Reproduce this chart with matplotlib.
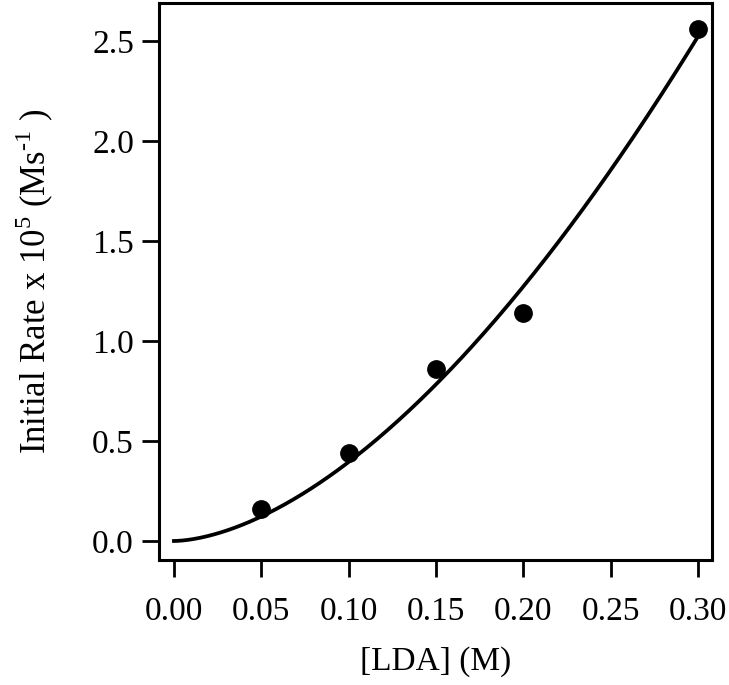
import numpy as np
import matplotlib
matplotlib.use("Agg")
import matplotlib.pyplot as plt

# Datos: velocidad inicial vs [LDA]
lda = np.array([0.05, 0.10, 0.15, 0.20, 0.30])
rate = np.array([0.16, 0.44, 0.86, 1.14, 2.56])

xticks = [0.00, 0.05, 0.10, 0.15, 0.20, 0.25, 0.30]
yticks = [0.0, 0.5, 1.0, 1.5, 2.0, 2.5]


def power_fit(x, y):
    # ajuste y = a * x**n por minimos cuadrados (busqueda en n)
    best = None
    for n in np.linspace(1.0, 3.0, 2001):
        xn = x ** n
        a = np.sum(y * xn) / np.sum(xn * xn)
        err = np.sum((y - a * xn) ** 2)
        if best is None or err < best[0]:
            best = (err, a, n)
    return best[1], best[2]


def main():
    plt.rcParams['font.family'] = ['Liberation Serif', 'DejaVu Serif']
    plt.rcParams['mathtext.fontset'] = 'custom'
    plt.rcParams['mathtext.rm'] = 'Liberation Serif'
    a, n = power_fit(lda, rate)
    xfit = np.linspace(0, 0.30, 300)

    fig = plt.figure(figsize=(7.29, 6.85), dpi=100)
    ax = fig.add_axes([0.218, 0.1825, 0.759, 0.813])
    ax.plot(xfit, a * xfit ** n, color='black', lw=2.7)
    ax.plot(lda, rate, 'o', color='black', ms=12.5)

    ax.set_xlim(-0.0086, 0.308)
    ax.set_ylim(-0.095, 2.69)
    ax.set_xticks(xticks)
    ax.set_xticklabels([f'{v:.2f}' for v in xticks])
    ax.set_yticks(yticks)
    ax.set_yticklabels([f'{v:.1f}' for v in yticks])
    ax.tick_params(direction='out', length=12, width=2, labelsize=24, pad=6)
    ax.tick_params(axis='x', pad=14)
    for s in ax.spines.values():
        s.set_linewidth(2.2)
    ax.set_xlabel('[LDA] (M)', fontsize=24, labelpad=14)
    ax.set_ylabel(r'Initial Rate x 10$^{\mathrm{5}}$ (Ms$^{\text{-1}}$ )',
                  fontsize=25, labelpad=26)

    fig.savefig('out.png', dpi=100)


if __name__ == "__main__":
    main()
